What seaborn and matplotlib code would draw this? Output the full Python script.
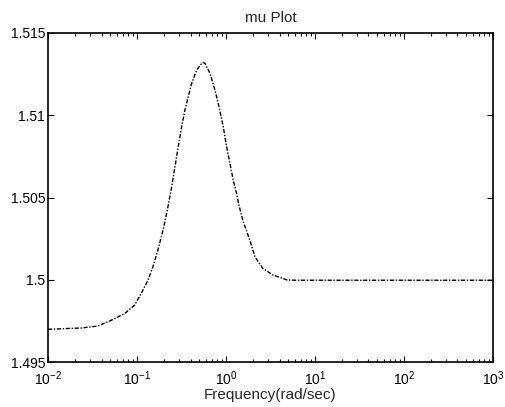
import matplotlib
matplotlib.use("Agg")
import matplotlib.pyplot as plt
import matplotlib.ticker as mticker
import pandas as pd
import seaborn as sns

# values
freq = [0.01, 0.0237, 0.0365, 0.0514, 0.0728, 0.0942, 0.1117, 0.1329, 0.151,
        0.172, 0.196, 0.208, 0.2248, 0.2455, 0.2673, 0.2911, 0.3178, 0.346,
        0.377, 0.412, 0.469, 0.533, 0.555, 0.581, 0.661, 0.752, 0.819, 0.933,
        1.018, 1.109, 1.208, 1.318, 1.40, 1.55, 1.86, 2.12, 2.6, 3.37, 4.84,
        6.0, 1000.0]
mu = [1.4970, 1.49708, 1.4972, 1.49755, 1.49796, 1.49847, 1.49918, 1.49998,
      1.50079, 1.50181, 1.50302, 1.50363, 1.50454, 1.50565, 1.50687, 1.50809,
      1.5093, 1.51032, 1.51113, 1.51194, 1.51275, 1.51316, 1.5132, 1.51316,
      1.51255, 1.51154, 1.51073, 1.5093, 1.50809, 1.50708, 1.50606, 1.50525,
      1.50454, 1.5036, 1.5024, 1.5014, 1.5007, 1.5003, 1.5000, 1.49998,
      1.49998]
y_ticks = [1.495, 1.5, 1.505, 1.51, 1.515]
x_ticks = [1e-2, 1e-1, 1e0, 1e1, 1e2, 1e3]

sns.set_theme(style="ticks")
plt.rcParams["font.family"] = ["Liberation Sans", "DejaVu Sans"]
plt.rcParams["xtick.direction"] = "in"
plt.rcParams["ytick.direction"] = "in"


def main() -> None:
    df = pd.DataFrame({"freq": freq, "mu": mu})

    fig = plt.figure(figsize=(5.05, 4.07), dpi=100)
    ax = fig.add_axes([0.095, 0.11, 0.881, 0.809])
    sns.lineplot(data=df, x="freq", y="mu", estimator=None, color="black",
                 linewidth=1.0, linestyle=(0, (3, 1.2, 1, 1.2)), ax=ax)

    ax.set_xscale("log")
    ax.set_xlim(1e-2, 1e3)
    ax.set_ylim(1.495, 1.515)
    ax.set_xticks(x_ticks)
    ax.set_yticks(y_ticks)
    ax.yaxis.set_major_formatter(mticker.FormatStrFormatter("%g"))
    ax.xaxis.set_minor_locator(mticker.LogLocator(base=10, subs=range(2, 10), numticks=20))
    ax.xaxis.set_minor_formatter(mticker.NullFormatter())

    ax.tick_params(which="both", top=True, right=True, colors="black",
                   labelsize=10, width=0.8)
    ax.tick_params(which="major", length=4, pad=2)
    ax.tick_params(axis="x", which="major", pad=5)
    ax.tick_params(which="minor", length=2)
    for sp in ax.spines.values():
        sp.set_color("black")
        sp.set_linewidth(1.2)

    ax.set_title("mu Plot", fontsize=11, pad=8)
    ax.set_xlabel("Frequency(rad/sec)", fontsize=11, labelpad=0.5)
    ax.set_ylabel("")

    fig.savefig("out.png", dpi=100)


if __name__ == "__main__":
    main()
